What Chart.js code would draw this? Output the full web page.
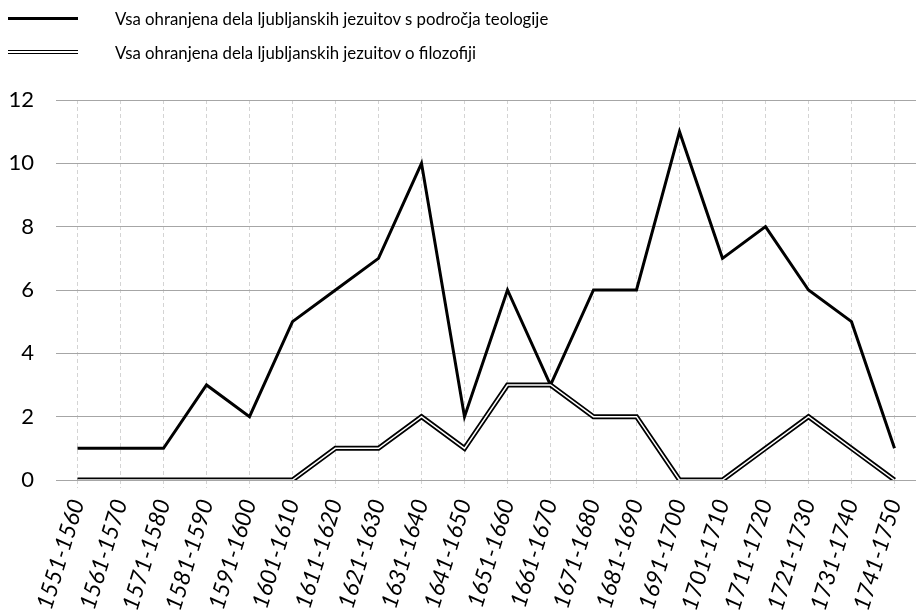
<!DOCTYPE html>
<html lang="sl">
<head>
    <meta charset="utf-8">
    <script src="https://cdn.jsdelivr.net/npm/chart.js"></script>
    <title>Ohranjena dela ljubljanskih jezuitov</title>
    <style>
        html, body { margin: 0; padding: 0; background: #fff; }
        #wrap { position: relative; width: 916px; height: 613px; font-family: Lato, "Open Sans", sans-serif; overflow: hidden; }
        #chartBox { position: absolute; left: 0; top: 0; width: 916px; height: 613px; }
        .legend-item { position: absolute; left: 8px; height: 20px; display: flex; align-items: center; font-size: 16.8px; color: #000; }
        .legend-item span { position: absolute; left: 107px; white-space: nowrap; }
        .sample-solid { width: 70px; height: 0; border-top: 3px solid #000; }
        .sample-double { width: 70px; height: 2px; border-top: 1.5px solid #000; border-bottom: 1.5px solid #000; }
    </style>
</head>
<body>
<div id="wrap">
    <div id="chartBox"><canvas id="chart"></canvas></div>
    <div class="legend-item" style="top: 8px;"><div class="sample-solid"></div><span>Vsa ohranjena dela ljubljanskih jezuitov s področja teologije</span></div>
    <div class="legend-item" style="top: 42px;"><div class="sample-double"></div><span>Vsa ohranjena dela ljubljanskih jezuitov o filozofiji</span></div>
</div>

<script>
    // decades (x axis)
    const decades = ['1551-1560', '1561-1570', '1571-1580', '1581-1590', '1591-1600',
        '1601-1610', '1611-1620', '1621-1630', '1631-1640', '1641-1650',
        '1651-1660', '1661-1670', '1671-1680', '1681-1690', '1691-1700',
        '1701-1710', '1711-1720', '1721-1730', '1731-1740', '1741-1750'];

    // number of works per decade
    const teologija = [1, 1, 1, 3, 2, 5, 6, 7, 10, 2, 6, 3, 6, 6, 11, 7, 8, 6, 5, 1];
    const filozofija = [0, 0, 0, 0, 0, 0, 1, 1, 2, 1, 3, 3, 2, 2, 0, 0, 1, 2, 1, 0];

    const yTicks = [0, 2, 4, 6, 8, 10, 12];

    const ctx = document.getElementById('chart').getContext('2d');
    new Chart(ctx, {
        type: 'line',
        data: {
            labels: decades,
            datasets: [
                {
                    // inner white stroke of the double line
                    label: 'filozofija-inner',
                    data: filozofija,
                    borderColor: '#fff',
                    borderWidth: 1.5,
                    pointRadius: 0,
                    tension: 0,
                    order: 0
                },
                {
                    label: 'Vsa ohranjena dela ljubljanskih jezuitov o filozofiji',
                    data: filozofija,
                    borderColor: '#000',
                    borderWidth: 5,
                    pointRadius: 0,
                    tension: 0,
                    order: 1
                },
                {
                    label: 'Vsa ohranjena dela ljubljanskih jezuitov s področja teologije',
                    data: teologija,
                    borderColor: '#000',
                    borderWidth: 3,
                    pointRadius: 0,
                    tension: 0,
                    order: 2
                }
            ]
        },
        options: {
            responsive: true,
            maintainAspectRatio: false,
            animation: false,
            layout: { padding: { top: 100, right: 0, left: 0, bottom: 0 } },
            plugins: {
                legend: { display: false },
                tooltip: { enabled: false }
            },
            scales: {
                x: {
                    offset: true,
                    afterFit: axis => {
                        axis.height = 133;
                        axis.paddingLeft = 0;
                        axis.paddingRight = 0;
                    },
                    border: { display: false, dash: [4, 3] },
                    grid: {
                        color: '#d4d4d4',
                        tickBorderDash: [4, 3],
                        tickColor: '#d4d4d4',
                        tickLength: 8,
                        offset: false
                    },
                    ticks: {
                        minRotation: 73,
                        maxRotation: 73,
                        autoSkip: false,
                        padding: 8,
                        color: '#000',
                        font: { family: 'Lato, "Open Sans", sans-serif', size: 23, style: 'italic' }
                    }
                },
                y: {
                    min: 0,
                    max: 12,
                    afterFit: axis => { axis.width = 56; },
                    border: { display: false },
                    afterBuildTicks: axis => { axis.ticks = yTicks.map(v => ({ value: v })); },
                    grid: { color: '#a6a6a6', drawTicks: false },
                    ticks: {
                        padding: 22,
                        color: '#000',
                        font: { family: 'Lato, "Open Sans", sans-serif', size: 22 }
                    }
                }
            }
        }
    });
</script>
</body>
</html>
